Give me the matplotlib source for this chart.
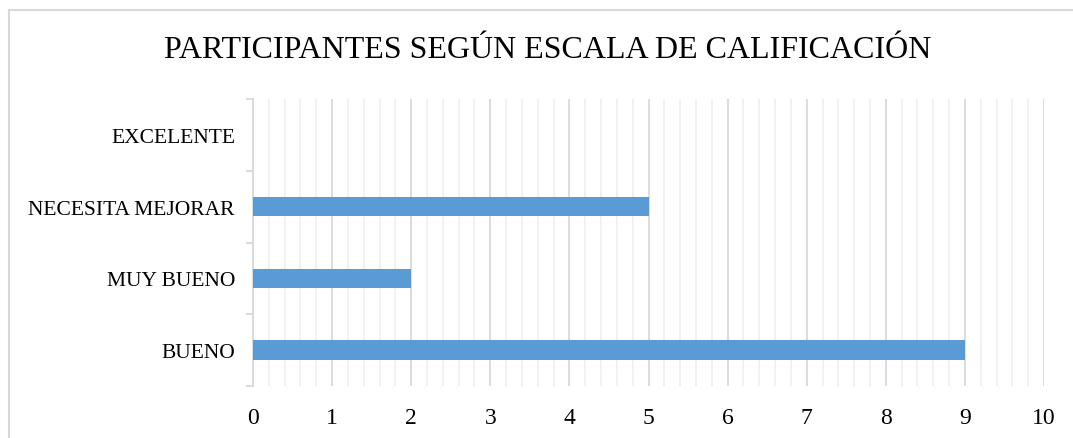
import numpy as np
import matplotlib
matplotlib.use("Agg")
import matplotlib.pyplot as plt
from matplotlib.lines import Line2D

categories = ["BUENO", "MUY BUENO", "NECESITA MEJORAR", "EXCELENTE"]
values = [9, 2, 5, 0]
title = "PARTICIPANTES SEGÚN ESCALA DE CALIFICACIÓN"

plt.rcParams["font.family"] = ["Liberation Serif", "DejaVu Serif"]

fig = plt.figure(figsize=(10.73, 4.39), dpi=100)
ax = fig.add_axes([253 / 1073, 1 - 387 / 439, (1044 - 253) / 1073, 287 / 439])

# chart frame (only left and top edges are visible in the crop)
fx, fy = 9 / 1073, 1 - 11 / 439
fig.add_artist(Line2D([fx, fx], [0, fy], transform=fig.transFigure,
                      color="#d9d9d9", linewidth=1.5))
fig.add_artist(Line2D([fx, 1], [fy, fy], transform=fig.transFigure,
                      color="#d9d9d9", linewidth=1.5))

y = np.arange(len(categories))
ax.barh(y, values, height=0.27, color="#5b9bd5", zorder=3)

ax.set_xlim(0, 10)
ax.set_ylim(-0.5, 3.5)
ax.set_xticks(np.arange(0, 11, 1))
ax.set_xticks(np.arange(0, 10.01, 0.2), minor=True)
ax.set_yticks(y)
ax.set_yticklabels(categories)
ax.set_yticks(np.arange(-0.5, 3.6, 1), minor=True)

ax.grid(axis="x", which="major", color="#d9d9d9", linewidth=1.3, zorder=0)
ax.grid(axis="x", which="minor", color="#f0f0f0", linewidth=1.3, zorder=0)

for s in ["top", "right", "bottom"]:
    ax.spines[s].set_visible(False)
ax.spines["left"].set_color("#d9d9d9")
ax.spines["left"].set_linewidth(1.3)

ax.tick_params(axis="x", which="both", length=0, labelsize=17, pad=15)
ax.tick_params(axis="y", which="major", length=0, labelsize=15.5, pad=13)
ax.tick_params(axis="y", which="minor", length=5, color="#d9d9d9", width=1.3)

fig.text(548 / 1073, 1 - 51 / 439, title, ha="center", va="center", fontsize=23)

fig.savefig("out.png", dpi=100)
